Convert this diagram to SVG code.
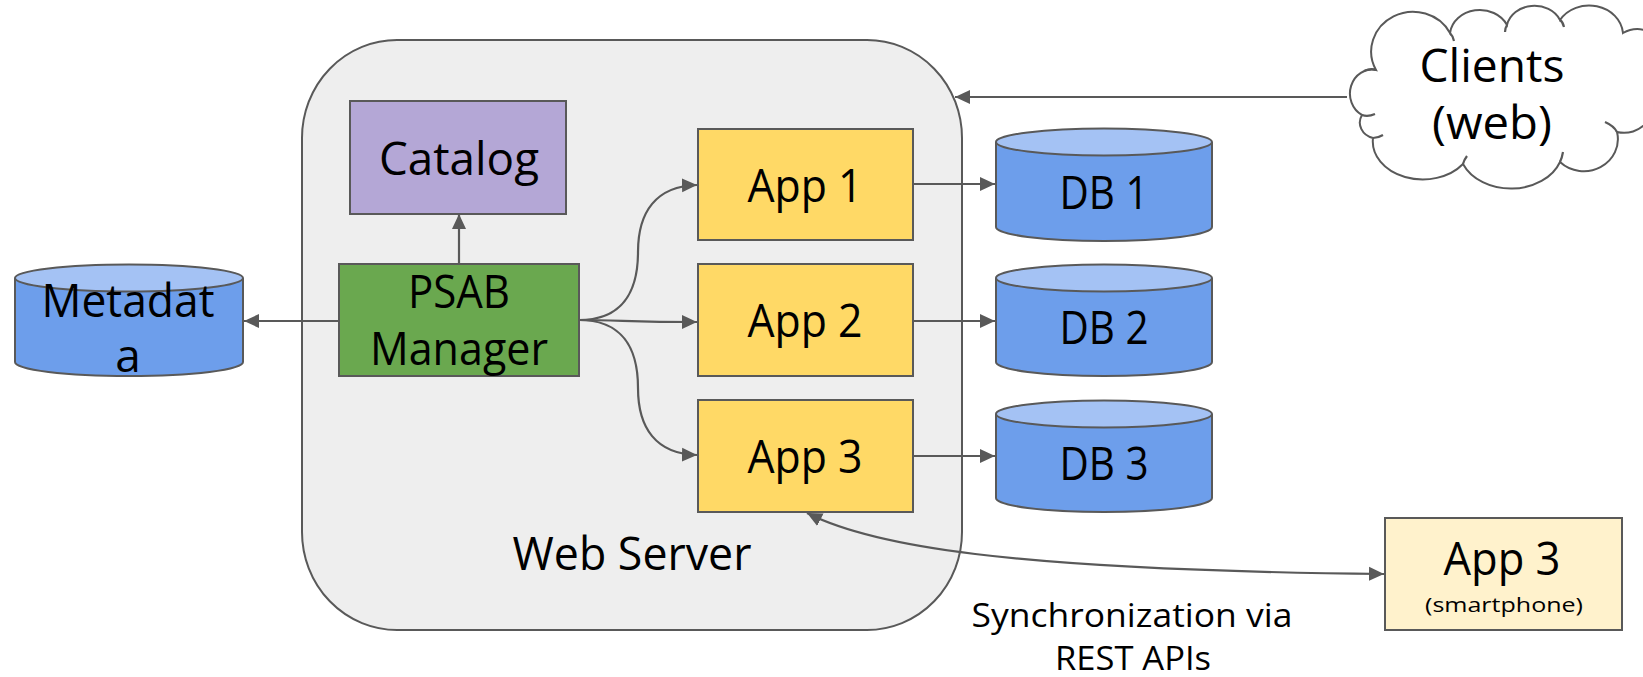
<svg xmlns="http://www.w3.org/2000/svg" width="1643" height="677" viewBox="0 0 1643 677">
<style>
.box{stroke:#595959;stroke-width:2}
.t{font-family:"Open Sans","Liberation Sans",sans-serif;font-size:46px;fill:#000;text-anchor:middle}
.s{font-family:"Open Sans","Liberation Sans",sans-serif;font-size:33px;fill:#000;text-anchor:middle}
.xs{font-family:"Open Sans","Liberation Sans",sans-serif;font-size:20px;fill:#000;text-anchor:middle}
.c{fill:none;stroke:#595959;stroke-width:2.2}
.dbb{fill:#6d9eeb;stroke:#595959;stroke-width:2}
.dbt{fill:#a4c2f4;stroke:#595959;stroke-width:2}
</style>
<defs>
<marker id="ah" markerUnits="userSpaceOnUse" markerWidth="16" markerHeight="16" viewBox="0 0 16 16" refX="15" refY="8" orient="auto-start-reverse">
<path d="M0,1 L15,8 L0,15 z" fill="#595959"/>
</marker>
</defs>
<rect width="1643" height="677" fill="#fff"/>

<g id="webserver">
<rect class="box" x="302" y="40" width="660" height="590" rx="95" ry="98" fill="#eeeeee"/>
<text class="t" x="632" y="570" textLength="239" lengthAdjust="spacingAndGlyphs">Web Server</text>
</g>

<g id="clients">
<path class="box" fill="#fff" d="M1362 115 A22 24 0 0 1 1376 70 A40 38 0 0 1 1450 33 A30 26 0 0 1 1507 25 A28 24 0 0 1 1560 20 A34 30 0 0 1 1623 33 A28 30 0 0 1 1652 92 A30 30 0 0 1 1617 132 A34 32 0 0 1 1560 162 A52 40 0 0 1 1463 164 A50 38 0 0 1 1373 138 A18 16 0 0 1 1362 115 Z"/>
<path class="c" stroke-width="2" d="M1362 115 q6 2 13 -1 M1376 70 q-5 -2 -12 1 M1450 33 q3 3 4 8 M1507 25 q-2 3 -2 7 M1560 20 q3 2 4 7 M1617 132 q-3 -6 -12 -10 M1560 162 q2 -4 3 -10 M1463 164 q1 -4 4 -8 M1373 138 q5 0 10 -3"/>
<text class="t" x="1492" y="82" textLength="145" lengthAdjust="spacingAndGlyphs">Clients</text>
<text class="t" x="1492" y="139" textLength="120" lengthAdjust="spacingAndGlyphs">(web)</text>
</g>

<g id="catalog">
<rect class="box" x="350" y="101" width="216" height="113" fill="#b4a7d6"/>
<text class="t" x="459" y="175" textLength="160" lengthAdjust="spacingAndGlyphs">Catalog</text>
</g>

<g id="psab">
<rect class="box" x="339" y="264" width="240" height="112" fill="#6aa84f"/>
<text class="t" x="459" y="308" textLength="102" lengthAdjust="spacingAndGlyphs">PSAB</text>
<text class="t" x="459" y="365" textLength="178" lengthAdjust="spacingAndGlyphs">Manager</text>
</g>

<g id="metadata">
<path class="dbb" d="M15 278 L15 362 A114 14 0 0 0 243 362 L243 278"/>
<ellipse class="dbt" cx="129" cy="278" rx="114" ry="13.5"/>
<text class="t" x="128" y="317" textLength="173" lengthAdjust="spacingAndGlyphs">Metadat</text>
<text class="t" x="128" y="372">a</text>
</g>

<g id="app1">
<rect class="box" x="698" y="129" width="215" height="111" fill="#ffd966"/>
<text class="t" x="805" y="202" textLength="115" lengthAdjust="spacingAndGlyphs">App 1</text>
</g>
<g id="app2">
<rect class="box" x="698" y="264" width="215" height="112" fill="#ffd966"/>
<text class="t" x="805" y="337" textLength="115" lengthAdjust="spacingAndGlyphs">App 2</text>
</g>
<g id="app3">
<rect class="box" x="698" y="400" width="215" height="112" fill="#ffd966"/>
<text class="t" x="805" y="473" textLength="115" lengthAdjust="spacingAndGlyphs">App 3</text>
</g>

<g id="db1">
<path class="dbb" d="M996 142 L996 227 A108 14 0 0 0 1212 227 L1212 142"/>
<ellipse class="dbt" cx="1104" cy="142" rx="108" ry="13.5"/>
<text class="t" x="1104" y="209" textLength="89" lengthAdjust="spacingAndGlyphs">DB 1</text>
</g>
<g id="db2">
<path class="dbb" d="M996 278 L996 362 A108 14 0 0 0 1212 362 L1212 278"/>
<ellipse class="dbt" cx="1104" cy="278" rx="108" ry="13.5"/>
<text class="t" x="1104" y="344" textLength="89" lengthAdjust="spacingAndGlyphs">DB 2</text>
</g>
<g id="db3">
<path class="dbb" d="M996 414 L996 498 A108 14 0 0 0 1212 498 L1212 414"/>
<ellipse class="dbt" cx="1104" cy="414" rx="108" ry="13.5"/>
<text class="t" x="1104" y="480" textLength="89" lengthAdjust="spacingAndGlyphs">DB 3</text>
</g>

<g id="app3phone">
<rect class="box" x="1385" y="518" width="237" height="112" fill="#fff2cc"/>
<text class="t" x="1502" y="575" textLength="117" lengthAdjust="spacingAndGlyphs">App 3</text>
<text class="xs" x="1504" y="612" textLength="158" lengthAdjust="spacingAndGlyphs">(smartphone)</text>
</g>

<g id="sync-label">
<text class="s" x="1132" y="627" textLength="321" lengthAdjust="spacingAndGlyphs">Synchronization via</text>
<text class="s" x="1133" y="670" textLength="156" lengthAdjust="spacingAndGlyphs">REST APIs</text>
</g>

<g id="connectors">
<path class="c" marker-end="url(#ah)" d="M1347 97 L955 97"/>
<path class="c" marker-end="url(#ah)" d="M459 264 L459 214"/>
<path class="c" marker-end="url(#ah)" d="M339 321 L244 321"/>
<path class="c" marker-end="url(#ah)" d="M579 320 C622 320 638 292 638 252 C638 212 656 186 697 185"/>
<path class="c" marker-end="url(#ah)" d="M579 320 C620 320 630 322 697 322"/>
<path class="c" marker-end="url(#ah)" d="M579 320 C622 320 638 348 638 388 C638 428 656 454 697 455"/>
<path class="c" marker-end="url(#ah)" d="M913 184 L995 184"/>
<path class="c" marker-end="url(#ah)" d="M913 321 L995 321"/>
<path class="c" marker-end="url(#ah)" d="M913 456 L995 456"/>
<path class="c" marker-start="url(#ah)" marker-end="url(#ah)" d="M807 513 C870 545 1000 570 1384 574"/>
</g>
</svg>
